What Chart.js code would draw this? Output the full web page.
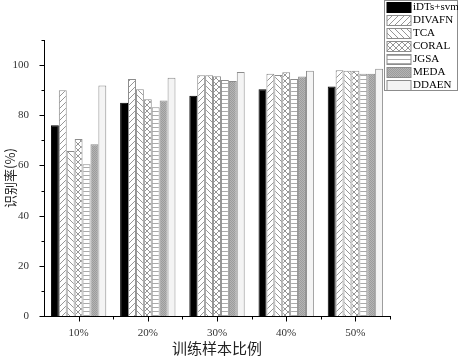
<!DOCTYPE html>
<html><head><meta charset="utf-8">
<script src="https://cdn.jsdelivr.net/npm/chart.js@4/dist/chart.umd.min.js"></script>
<style>html,body{margin:0;padding:0;background:#fff}#wrap{width:458px;height:357px}</style>
</head><body><div id="wrap"><canvas id="c" width="458" height="357"></canvas></div>
<script>
const categories = ['10%', '20%', '30%', '40%', '50%'];
const seriesNames = ['iDTs+svm', 'DIVAFN', 'TCA', 'CORAL', 'JGSA', 'MEDA', 'DDAEN'];
const iDTsSvm = [76, 85, 87.8, 90.4, 91.5];
const DIVAFN = [90, 94.5, 96, 96.5, 97.9];
const TCA = [65.8, 90.4, 96, 96.1, 97.7];
const CORAL = [70.5, 86.4, 95.6, 97.1, 97.7];
const JGSA = [60.5, 83.2, 94.1, 94.5, 96.5];
const MEDA = [68.5, 85.9, 93.7, 95.5, 96.5];
const DDAEN = [91.9, 95, 97.2, 97.7, 98.5];
const yTickLabels = [0, 20, 40, 60, 80, 100];
const seriesData = [iDTsSvm, DIVAFN, TCA, CORAL, JGSA, MEDA, DDAEN];

function makePattern(kind) {
  const s = 6;
  const c = document.createElement('canvas');
  c.width = s; c.height = s;
  const g = c.getContext('2d');
  g.fillStyle = '#fff'; g.fillRect(0, 0, s, s);
  g.strokeStyle = '#8a8a8a'; g.lineWidth = 0.9;
  const diag = (d) => {
    g.beginPath();
    if (d > 0) { g.moveTo(-1, s + 1); g.lineTo(s + 1, -1); g.moveTo(-1, 1); g.lineTo(1, -1); g.moveTo(s - 1, s + 1); g.lineTo(s + 1, s - 1); }
    else { g.moveTo(-1, -1); g.lineTo(s + 1, s + 1); g.moveTo(s - 1, -1); g.lineTo(s + 1, 1); g.moveTo(-1, s - 1); g.lineTo(1, s + 1); }
    g.stroke();
  };
  if (kind === 'fwd') diag(1);
  else if (kind === 'back') diag(-1);
  else if (kind === 'cross') { diag(1); diag(-1); }
  else if (kind === 'horiz') {
    const c2 = document.createElement('canvas'); c2.width = 4; c2.height = 4;
    const h = c2.getContext('2d'); h.fillStyle = '#fff'; h.fillRect(0, 0, 4, 4);
    h.fillStyle = '#aaaaaa'; h.fillRect(0, 3, 4, 1);
    return h.createPattern(c2, 'repeat');
  } else if (kind === 'dots') {
    const c2 = document.createElement('canvas'); c2.width = 2; c2.height = 2;
    const h = c2.getContext('2d'); h.fillStyle = '#b4b4b4'; h.fillRect(0, 0, 2, 2);
    h.fillStyle = '#9c9c9c'; h.fillRect(0, 0, 1, 1); h.fillRect(1, 1, 1, 1);
    return h.createPattern(c2, 'repeat');
  }
  return g.createPattern(c, 'repeat');
}

const fills = ['#000000', makePattern('fwd'), makePattern('back'), makePattern('cross'), makePattern('horiz'), makePattern('dots'), '#f4f4f4'];
const borders = ['#000000', '#8c8c8c', '#8c8c8c', '#8c8c8c', '#8c8c8c', '#8c8c8c', '#8c8c8c'];

const serif = "'Liberation Serif', 'Times New Roman', serif";
const cjk = "'Noto Sans CJK SC', 'Liberation Serif', serif";

const axisTicks = {
  id: 'axisTicks',
  afterDraw(chart) {
    const ctx = chart.ctx;
    const x = chart.scales.x, y = chart.scales.y;
    ctx.save();
    ctx.strokeStyle = '#000'; ctx.lineWidth = 1;
    const L = Math.round(x.left) + 0.5, B = Math.round(y.bottom) + 0.5;
    for (let v = 0; v <= 110; v += 10) {
      const py = Math.round(y.getPixelForValue(v)) + 0.5;
      const len = v % 20 === 0 ? 5 : 3;
      ctx.beginPath(); ctx.moveTo(L, py); ctx.lineTo(L - len, py); ctx.stroke();
    }
    for (let i = 0; i < categories.length; i++) {
      const px = Math.round(x.getPixelForValue(i)) + 0.5;
      ctx.beginPath(); ctx.moveTo(px, B); ctx.lineTo(px, B + 5); ctx.stroke();
      const mx = Math.round(x.getPixelForValue(i + 0.5)) + 0.5;
      ctx.beginPath(); ctx.moveTo(mx, B); ctx.lineTo(mx, B + 3); ctx.stroke();
    }
    // legend
    const lx = 384.5, ly = 0.5, lw = 73, lh = 90;
    ctx.fillStyle = '#fff'; ctx.fillRect(lx, ly, lw, lh);
    ctx.strokeStyle = '#8c8c8c'; ctx.strokeRect(lx, ly, lw, lh);
    ctx.font = '11px ' + serif; ctx.textBaseline = 'middle'; ctx.textAlign = 'left';
    chart.data.datasets.forEach((ds, i) => {
      const cy = 6.5 + i * 13.1;
      const sx = 387, sy = Math.round(cy - 5) + 0.5;
      ctx.fillStyle = ds.backgroundColor;
      ctx.fillRect(sx, sy, 24, 10);
      ctx.strokeStyle = ds.borderColor; ctx.strokeRect(sx, sy, 24, 10);
      ctx.fillStyle = '#000';
      ctx.fillText(ds.label, 413, cy + 0.5);
    });
    ctx.restore();
  }
};

new Chart(document.getElementById('c'), {
  type: 'bar',
  data: {
    labels: categories,
    datasets: seriesNames.map((n, i) => ({
      label: n, data: seriesData[i], backgroundColor: fills[i], borderColor: borders[i],
      borderWidth: 1, categoryPercentage: 0.8, barPercentage: 1.0
    }))
  },
  options: {
    responsive: false, animation: false, devicePixelRatio: 1,
    layout: { padding: { top: 40, right: 68, left: 0, bottom: 0 } },
    plugins: { legend: { display: false }, tooltip: { enabled: false } },
    scales: {
      x: {
        grid: { display: false }, border: { display: true, color: '#000', width: 1 },
        ticks: { font: { family: serif, size: 11 }, color: '#333', padding: 3 },
        title: { display: true, text: '训练样本比例', font: { family: cjk, size: 15 }, color: '#222', padding: { top: 0, bottom: 0 } },
        afterFit: s => { s.height = 41; }
      },
      y: {
        min: 0, max: 110,
        grid: { display: false }, border: { display: true, color: '#000', width: 1 },
        ticks: { stepSize: 10, font: { family: serif, size: 11 }, color: '#333', padding: 7,
          callback: v => yTickLabels.includes(v) ? String(v) : '' },
        title: { display: true, text: '识别率(%)', font: { family: cjk, size: 13 }, color: '#222', padding: { top: 2, bottom: 0 } },
        afterFit: s => { s.width = 44; }
      }
    }
  },
  plugins: [axisTicks]
});
</script></body></html>
